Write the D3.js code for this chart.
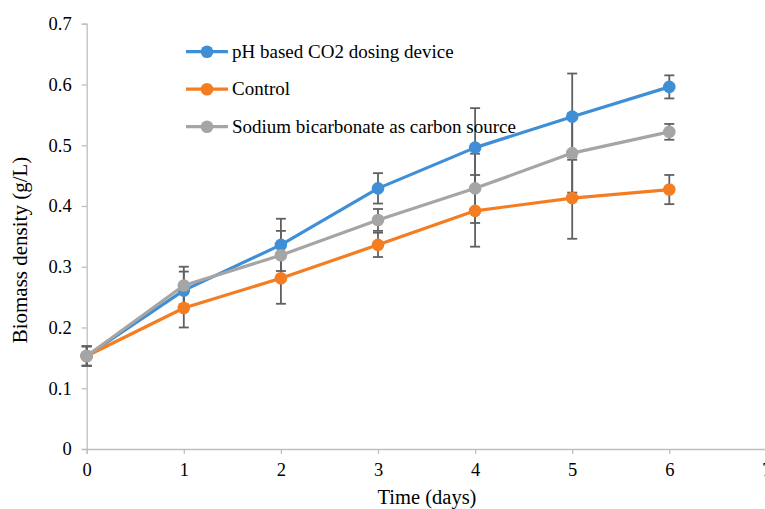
<!DOCTYPE html>
<html><head><meta charset="utf-8">
<script src="https://cdn.jsdelivr.net/npm/d3@7/dist/d3.min.js"></script>
<style>body{margin:0;background:#fff}svg{display:block}text{font-family:"Liberation Serif","Times New Roman",serif;fill:#000}</style>
</head><body>
<svg id="c" width="765" height="509"></svg>
<script>
const days = [0, 1, 2, 3, 4, 5, 6];
const xTicks = [0, 1, 2, 3, 4, 5, 6, 7];
const yTicks = [0, 0.1, 0.2, 0.3, 0.4, 0.5, 0.6, 0.7];
const seriesNames = ["pH based CO2 dosing device", "Control", "Sodium bicarbonate as carbon source"];
const phValues = [0.153, 0.261, 0.336, 0.429, 0.496, 0.547, 0.596];
const phErrors = [0.016, 0.031, 0.043, 0.025, 0.065, 0.071, 0.019];
const controlValues = [0.153, 0.232, 0.281, 0.336, 0.392, 0.413, 0.427];
const controlErrors = [0.016, 0.032, 0.042, 0.020, 0.059, 0.067, 0.024];
const bicarbValues = [0.153, 0.269, 0.319, 0.377, 0.429, 0.487, 0.522];
const bicarbErrors = [0.016, 0.031, 0.040, 0.018, 0.057, 0.065, 0.013];
const colors = ["#3f8fd6", "#f47d22", "#a5a5a5"];

const series = [
  {name: seriesNames[0], values: phValues, errors: phErrors, color: colors[0]},
  {name: seriesNames[1], values: controlValues, errors: controlErrors, color: colors[1]},
  {name: seriesNames[2], values: bicarbValues, errors: bicarbErrors, color: colors[2]}
];

const svg = d3.select("#c");
const x = d3.scaleLinear().domain([0, 7]).range([86.7, 766.4]);
const y = d3.scaleLinear().domain([0, 0.7]).range([449, 23.7]);
const axisColor = "#bfbfbf";

// Y axis
const ya = svg.append("g").attr("transform", "translate(86.7,0)")
  .call(d3.axisLeft(y).tickValues(yTicks).tickSize(5).tickPadding(10).tickFormat(d => d === 0 ? "0" : d3.format(".1f")(d)));
ya.select(".domain").attr("stroke", axisColor).attr("stroke-width", 1.3);
ya.selectAll(".tick line").attr("stroke", axisColor).attr("stroke-width", 1.3);
ya.selectAll(".tick text").attr("font-size", 18.5).attr("font-family", "Liberation Serif");

// X axis
const xa = svg.append("g").attr("transform", "translate(0,449)")
  .call(d3.axisBottom(x).tickValues(xTicks).tickSize(5).tickPadding(9).tickFormat(d3.format("d")));
xa.select(".domain").attr("stroke", axisColor).attr("stroke-width", 1.3);
xa.selectAll(".tick line").attr("stroke", axisColor).attr("stroke-width", 1.3);
xa.selectAll(".tick text").attr("font-size", 18.5).attr("font-family", "Liberation Serif");

// Axis titles
svg.append("text").attr("x", 427).attr("y", 504).attr("text-anchor", "middle")
  .attr("font-size", 20.5).text("Time (days)");
svg.append("text").attr("transform", "translate(27,250) rotate(-90)").attr("text-anchor", "middle")
  .attr("font-size", 21).text("Biomass density (g/L)");

// Error bars
const eb = svg.append("g").attr("stroke", "#606060").attr("stroke-width", 1.8).attr("fill", "none");
series.forEach(s => {
  days.forEach((d, i) => {
    const cx = x(d), y1 = y(s.values[i] + s.errors[i]), y2 = y(s.values[i] - s.errors[i]);
    eb.append("line").attr("x1", cx).attr("x2", cx).attr("y1", y1).attr("y2", y2);
    eb.append("line").attr("x1", cx - 5).attr("x2", cx + 5).attr("y1", y1).attr("y2", y1);
    eb.append("line").attr("x1", cx - 5).attr("x2", cx + 5).attr("y1", y2).attr("y2", y2);
  });
});

// Lines and markers
const line = d3.line().x((v, i) => x(days[i])).y(v => y(v));
series.forEach(s => {
  svg.append("path").attr("d", line(s.values)).attr("fill", "none")
    .attr("stroke", s.color).attr("stroke-width", 3.2).attr("stroke-linejoin", "round");
  svg.append("g").selectAll("circle").data(s.values).join("circle")
    .attr("cx", (v, i) => x(days[i])).attr("cy", v => y(v)).attr("r", 6.3).attr("fill", s.color);
});

// Legend
const lg = svg.append("g");
series.forEach((s, i) => {
  const ly = 51.7 + i * 37.5;
  lg.append("line").attr("x1", 186).attr("x2", 228).attr("y1", ly).attr("y2", ly)
    .attr("stroke", s.color).attr("stroke-width", 3.2);
  lg.append("circle").attr("cx", 207).attr("cy", ly).attr("r", 6.3).attr("fill", s.color);
  lg.append("text").attr("x", 232).attr("y", ly + 6).attr("font-size", 19).text(s.name);
});
</script>
</body></html>
